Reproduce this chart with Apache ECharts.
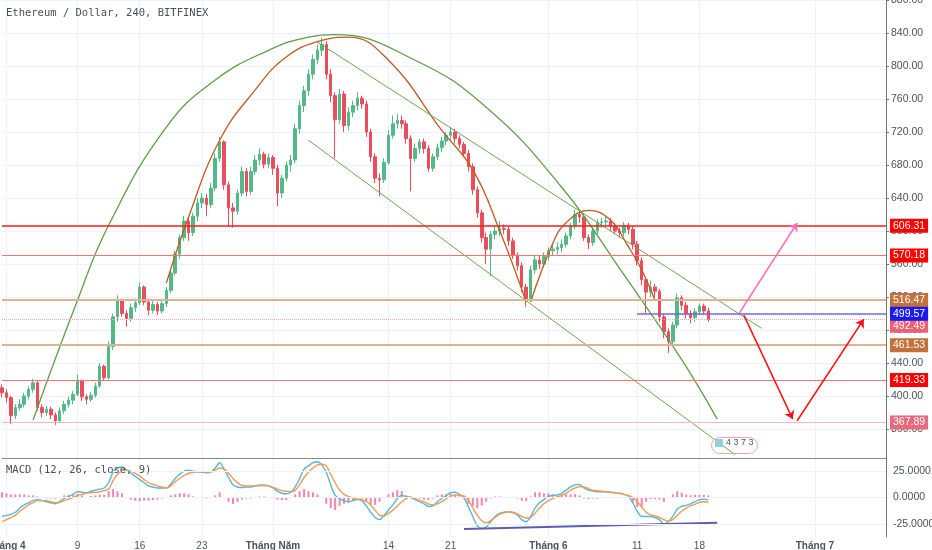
<!DOCTYPE html>
<html>
<head>
<meta charset="utf-8">
<script src="https://cdn.jsdelivr.net/npm/echarts@6/dist/echarts.min.js"></script>
<style>
  html, body { margin: 0; padding: 0; background: #fff; }
  #main { width: 932px; height: 550px; }
</style>
</head>
<body>
<div id="main"></div>
<script>
// nến 12h: [open, close, low, high]
var candles = [
  [410,404,398,414],[404,398,392,408],[398,376,366,400],[376,386,372,390],[386,390,382,396],
  [390,400,386,404],[400,408,396,412],[408,416,404,421],[416,386,382,418],[386,380,374,390],
  [380,384,376,388],[384,377,372,387],[377,370,365,380],[370,382,368,386],[382,390,378,394],
  [390,395,386,399],[395,402,390,406],[402,418,400,426],[418,399,394,420],[399,396,390,402],
  [396,401,393,405],[401,412,398,416],[412,436,410,440],[436,422,418,438],[422,460,420,466],
  [460,496,456,500],[496,516,490,522],[516,500,496,518],[500,494,484,504],[494,507,490,512],
  [507,513,502,518],[513,532,510,538],[532,514,510,534],[514,504,498,518],[504,511,500,515],
  [511,503,498,514],[503,512,500,516],[512,528,508,532],[528,549,525,553],[549,572,546,576],
  [572,592,566,596],[592,612,588,618],[612,598,588,616],[598,618,594,622],[618,634,612,640],
  [634,640,628,646],[640,632,618,645],[632,652,628,658],[652,688,648,694],[688,708,684,714],
  [708,656,650,710],[656,628,606,660],[628,624,604,634],[624,646,620,650],[646,672,642,678],
  [672,648,642,676],[648,672,644,678],[672,686,668,692],[686,693,680,700],[693,681,676,696],
  [681,689,676,694],[689,676,668,692],[676,646,630,680],[646,664,640,668],[664,680,660,684],
  [680,686,672,692],[686,724,682,730],[724,752,718,758],[752,770,744,776],[770,790,764,796],
  [790,808,784,814],[808,819,802,826],[819,826,812,834],[826,790,784,830],[790,764,756,796],
  [764,735,688,768],[735,766,730,772],[766,728,720,770],[728,744,722,750],[744,752,738,758],
  [752,761,746,768],[761,754,748,764],[754,720,714,758],[720,690,684,724],[690,664,658,694],
  [664,662,642,670],[662,683,658,688],[683,716,680,722],[716,730,712,740],[730,734,724,742],
  [734,730,724,740],[730,712,706,734],[712,688,648,716],[688,700,684,706],[700,708,694,712],
  [708,700,694,712],[700,676,672,704],[676,690,672,694],[690,701,686,706],[701,709,696,714],
  [709,716,704,720],[716,720,710,726],[720,712,706,724],[712,705,700,716],[705,694,690,708],
  [694,678,672,698],[678,650,644,682],[650,622,616,654],[622,592,586,626],[592,578,560,598],
  [578,596,545,600],[596,600,590,606],[600,603,594,612],[603,602,596,608],[602,588,582,606],
  [588,571,566,592],[571,558,552,574],[558,532,526,562],[532,518,508,536],[518,553,514,558],
  [553,565,548,570],[565,560,554,570],[560,569,556,574],[569,576,564,580],[576,578,570,584],
  [578,580,572,586],[580,584,574,590],[584,594,580,598],[594,606,590,610],[606,620,602,626],
  [620,617,610,624],[617,592,588,620],[592,586,578,596],[586,600,582,604],[600,610,596,614],
  [610,611,604,616],[611,612,606,618],[612,606,600,616],[606,600,596,610],[600,598,592,604],
  [598,607,594,611],[607,602,596,610],[602,584,578,606],[584,564,558,588],[564,541,534,568],
  [541,526,500,544],[526,532,520,540],[532,527,520,536],[527,496,490,530],[496,478,470,500],
  [478,466,452,482],[466,486,462,490],[486,519,482,524],[519,510,504,522],[510,500,494,514],
  [500,495,488,504],[495,502,490,506],[502,509,498,512],[509,503,498,512],[503,492.49,490,507]
];

var macdLine = [
  -18,-17,-16,-14,-10,-7,-5,-3,-2,-3, -4,-5,-6,-4,-1,1,3,5.5,5,4.5,
  6,7,8,9,14,24,28,29,26,23, 20,17,14,11,10,9,9,9,13,18,
  22,25,26,25,24.5,24,23.5,24,28,33, 27,19,12,10,9.5,10,10,11,12,12,
  11,9,6,4,3.5,5,10,18,27,30, 33,34,31,24,12,2,-1,-3,-4,-3,
  -2,-3,-8,-14,-19,-21,-17,-12,-7,-1, 2,1,0,-2,-4,-6,-8.5,-8,-4,-1,
  2,4.5,5,3,0,-9,-18,-27,-29.5,-28, -23,-18,-15,-14,-13.5,-14.5,-16.5,-21,-23,-18,
  -10,-5,-2,1,2,2.5,4,7,10,12, 12.5,9,7,6,5.5,5.5,5.5,5,4.5,4,
  3,1.5,-5,-13,-18,-18,-18,-19,-21,-25, -23,-18,-11,-8.5,-7.5,-6,-4,-2,-1.5,-2.5
];

var signalLine = [
  -23,-21,-19,-17,-13,-10,-7,-5,-3,-3, -3,-4,-5,-4.5,-3,-1.5,0,2,3,4,
  4.5,5,5.5,6.5,8,16,22,25,26,25, 23,20.5,17,14,12.5,11,10,9,11,15,
  18,21,23,24,24.5,24.5,24.5,24.5,26,28, 27,23,18,14,11.5,11,11,11,11,11,
  11,9.5,8,6.5,6,5.5,7,12,19,24, 28,31,31.5,30,22,14,7,3,1,-0.5,
  -1.5,-2,-4,-7,-12,-17,-17.5,-15,-12,-8, -4,-1,0.5,-1,-3,-4,-6,-7,-6,-4,
  -1,1,2.5,2,1.5,-3,-10,-17,-22,-24, -22,-19,-16,-14.5,-13.5,-14,-15.5,-18,-19.5,-19,
  -15,-10,-6,-3,-1,0.5,2,4,7,9, 10.5,10,8.5,7,6.5,6,5.5,5,4.5,4,
  3,2,0,-4,-9,-14,-16.5,-17.5,-19,-21, -22.5,-21,-17,-13,-10,-8,-6.5,-4.5,-4,-4.5
];

// mốc ngày trên trục thời gian (chỉ số ô 12h -> nhãn)
var tickLabels = {
  1: 'Tháng 4', 17: '9', 31: '16', 45: '23', 61: 'Tháng Năm', 87: '14',
  101: '21', 123: 'Tháng 6', 143: '11', 157: '18', 183: 'Tháng 7'
};

// các mức ngang đã vẽ
var levels = [606.31, 570.18, 516.47, 492.49, 461.53, 419.33, 367.89];
var blueLevel = 499.57;

// hình vẽ tay: [chỉ số ô, giá]
var bigArc = [[6.9,371],[16.8,516],[24.3,607],[37.1,726],[48.4,783],[59.6,819],[68.6,835],[75,838],
  [92.5,807],[109.2,750],[125.6,653],[139.8,547],[153.3,444],[161,372]];
var brownArc = [[37.3,537],[41.6,617],[49.1,710],[56.5,771],[64.1,811],[71.6,831],[77.7,835],
  [87.3,807],[99.3,722],[106,674],[112.1,601],[118.4,514]];
var brownCup = [[118.6,514],[124,585],[127.2,610],[131.7,625],[136.9,613],[141.4,581],[143.6,553],[146.6,516]];
var upperChannel = [[71.1,829],[171.1,482]];
var lowerChannel = [[69.3,710],[164.6,329]];
var pinkArrow = [[165.5,500.6],[179,609.7]];
var redArrowDown = [[166.6,498],[178.1,372]];
var redArrowUp = [[179,370],[193.9,493]];
var macdDivergence = [[104.2,-29.9],[161,-24]];

var levelStyle = {
  606.31: { line: '#ff1a1a', width: 1.5, bg: '#ff0000', type: 'solid', dy: 0 },
  570.18: { line: '#ff7070', width: 1.2, bg: '#ff0000', type: 'solid', dy: 0 },
  516.47: { line: '#dcb48f', width: 2, bg: '#c4703c', type: 'solid', dy: 0 },
  492.49: { line: '#f7a9b1', width: 1, bg: '#ef5f72', type: 'dotted', dy: 6 },
  461.53: { line: '#dcb48f', width: 2, bg: '#c4703c', type: 'solid', dy: 0 },
  419.33: { line: '#ff7373', width: 1.2, bg: '#ff0000', type: 'solid', dy: 0 },
  367.89: { line: '#f9b7bf', width: 1.2, bg: '#e8697a', type: 'solid', dy: 0 }
};

var N = 200;
var categories = [];
var t0 = Date.UTC(2018, 2, 31, 12);
for (var i = 0; i < N; i++) {
  var d = new Date(t0 + i * 12 * 3600 * 1000);
  categories.push(d.getUTCFullYear() + '-' + (d.getUTCMonth() + 1) + '-' + d.getUTCDate() + ' ' + d.getUTCHours() + 'h');
}
var histogram = macdLine.map(function (v, k) { return +(v - signalLine[k]).toFixed(2); });

function isTick(index) { return tickLabels[index] !== undefined; }

var gridColor = '#eef1f6';
var labelFont = 'Liberation Sans, Arial, sans-serif';

var levelMarks = levels.map(function (v) {
  var s = levelStyle[v];
  return {
    yAxis: v,
    lineStyle: { color: s.line, width: s.width, type: s.type },
    label: { backgroundColor: s.bg, formatter: v.toFixed(2), offset: [0, s.dy] }
  };
});
levelMarks.push([
  { coord: [143, blueLevel], lineStyle: { color: '#6b6be0', width: 1.5, type: 'solid' },
    label: { backgroundColor: '#1a1af0', formatter: blueLevel.toFixed(2) } },
  { coord: [N - 1, blueLevel] }
]);
function arrow(pts, color) {
  return [
    { coord: pts[0], symbol: 'none', lineStyle: { color: color, width: 1.5, type: 'solid' }, label: { show: false } },
    { coord: pts[1], symbol: 'arrow', symbolSize: 8 }
  ];
}
levelMarks.push(arrow(pinkArrow, '#ff6fb5'));
levelMarks.push(arrow(redArrowDown, '#ff1010'));
levelMarks.push(arrow(redArrowUp, '#ff1010'));

function drawing(name, pts, color, width, smooth) {
  return {
    name: name, type: 'line', xAxisIndex: 0, yAxisIndex: 0, data: pts,
    showSymbol: false, symbol: 'none', smooth: smooth, silent: true,
    lineStyle: { color: color, width: width }, z: 4
  };
}

var chart = echarts.init(document.getElementById('main'), null, { renderer: 'canvas' });
chart.setOption({
  animation: false,
  backgroundColor: '#fff',
  title: [
    { text: 'Ethereum / Dollar, 240, BITFINEX', left: 6, top: 8, padding: 0,
      textStyle: { fontFamily: 'DejaVu Sans Mono, monospace', fontSize: 10.5, fontWeight: 'normal', color: '#4a4f5a' } },
    { text: 'MACD (12, 26, close, 9)', left: 6, top: 465, padding: 0,
      textStyle: { fontFamily: 'DejaVu Sans Mono, monospace', fontSize: 10.5, fontWeight: 'normal', color: '#4a4f5a' } }
  ],
  grid: [
    { left: 2, top: 0, width: 884, height: 462, outerBoundsMode: 'none' },
    { left: 2, top: 458, width: 884, height: 79, outerBoundsMode: 'none' }
  ],
  xAxis: [
    { type: 'category', gridIndex: 0, data: categories, boundaryGap: false,
      axisLine: { show: false }, axisTick: { show: false }, axisLabel: { show: false },
      splitLine: { show: true, interval: function (idx) { return isTick(idx); }, lineStyle: { color: gridColor } } },
    { type: 'category', gridIndex: 1, data: categories, boundaryGap: false,
      axisLine: { show: true, lineStyle: { color: '#777' } }, axisTick: { show: false },
      axisLabel: {
        interval: function (idx) { return isTick(idx); },
        formatter: function (val, idx) {
          var s = tickLabels[idx];
          if (s === undefined) return '';
          return s.indexOf('Tháng') === 0 ? '{b|' + s + '}' : s;
        },
        margin: 4, fontSize: 10, color: '#4c525e', fontFamily: labelFont,
        rich: { b: { fontWeight: 'bold', fontSize: 10, color: '#4c525e', fontFamily: labelFont } }
      },
      splitLine: { show: true, interval: function (idx) { return isTick(idx); }, lineStyle: { color: gridColor } } },
    { type: 'category', gridIndex: 1, data: categories, boundaryGap: false, position: 'top',
      axisLine: { show: true, lineStyle: { color: '#888' } }, axisTick: { show: false },
      axisLabel: { show: false }, splitLine: { show: false } }
  ],
  yAxis: [
    { type: 'value', gridIndex: 0, position: 'right', min: 320, max: 880, interval: 40,
      axisLine: { show: true, lineStyle: { color: '#777' } },
      axisTick: { show: true, length: 3, lineStyle: { color: '#777' } },
      axisLabel: { formatter: function (v) { return v.toFixed(2); }, showMinLabel: false,
        fontSize: 10.5, color: '#4c525e', margin: 5, fontFamily: labelFont },
      splitLine: { show: true, showMinLine: false, lineStyle: { color: gridColor } } },
    { type: 'value', gridIndex: 1, position: 'right', min: -37.5, max: 37.5, interval: 12.5,
      axisLine: { show: true, lineStyle: { color: '#777' } }, axisTick: { show: false },
      axisLabel: { formatter: function (v) { return Math.abs(v) % 25 === 0 ? v.toFixed(4) : ''; },
        fontSize: 10.5, color: '#4c525e', margin: 7, fontFamily: labelFont },
      splitLine: { show: false } }
  ],
  series: [
    {
      name: 'ETHUSD', type: 'candlestick', xAxisIndex: 0, yAxisIndex: 0, data: candles,
      barWidth: 3, z: 3,
      itemStyle: { color: '#53b987', color0: '#eb4d5c', borderColor: '#53b987', borderColor0: '#eb4d5c', borderWidth: 1 },
      markLine: {
        silent: true, symbol: ['none', 'none'], precision: 2, z: 5,
        label: { show: true, position: 'end', distance: 4, color: '#fff', fontSize: 10.5,
          fontFamily: labelFont, padding: [2, 3, 1, 3] },
        data: levelMarks
      }
    },
    drawing('arc', bigArc, '#5f9e47', 1.3, 0.45),
    drawing('brown', brownArc, '#c25a1f', 1.3, 0.45),
    drawing('cup', brownCup, '#c25a1f', 1.3, 0.45),
    drawing('upper', upperChannel, '#6aa84f', 1, false),
    drawing('lower', lowerChannel, '#6aa84f', 1, false),
    {
      name: 'Histogram', type: 'bar', xAxisIndex: 1, yAxisIndex: 1, data: histogram,
      barWidth: 2, itemStyle: { color: '#f584ad' }, silent: true,
      markLine: {
        silent: true, symbol: ['none', 'none'], label: { show: false },
        lineStyle: { color: gridColor, type: 'solid', width: 1 },
        data: [{ yAxis: 25 }, { yAxis: 0 }, { yAxis: -25 }]
      }
    },
    { name: 'MACD', type: 'line', xAxisIndex: 1, yAxisIndex: 1, data: macdLine, showSymbol: false,
      smooth: 0.3, lineStyle: { color: '#52b9dc', width: 1.4 }, silent: true },
    { name: 'Signal', type: 'line', xAxisIndex: 1, yAxisIndex: 1, data: signalLine, showSymbol: false,
      smooth: 0.3, lineStyle: { color: '#f59a4f', width: 1.4 }, silent: true },
    { name: 'Divergence', type: 'line', xAxisIndex: 1, yAxisIndex: 1, data: macdDivergence, showSymbol: false,
      lineStyle: { color: '#5d5db0', width: 2 }, silent: true }
  ],
  graphic: [
    { type: 'rect', left: 711, top: 437, shape: { width: 46, height: 16, r: 8 },
      style: { fill: 'rgba(0,0,0,0)', stroke: '#f3a3ab', lineWidth: 1 }, z: 10 },
    { type: 'rect', left: 715, top: 439, shape: { width: 8, height: 8 }, style: { fill: '#8fd0dc' }, z: 10 },
    { type: 'text', left: 726, top: 438, style: { text: '4 3 7 3', fill: '#555', fontSize: 9, fontFamily: labelFont }, z: 10 }
  ]
});
</script>
</body>
</html>
